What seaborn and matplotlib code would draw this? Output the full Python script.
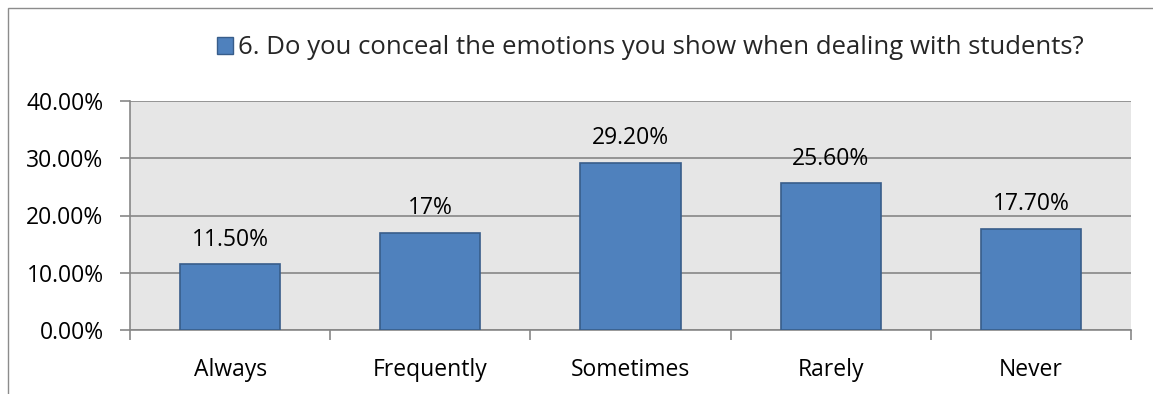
import matplotlib
matplotlib.use("Agg")
import matplotlib.pyplot as plt
import seaborn as sns
import pandas as pd
from matplotlib.patches import Rectangle, Patch
from matplotlib.ticker import FuncFormatter, FixedLocator

categories = ["Always", "Frequently", "Sometimes", "Rarely", "Never"]
values = [11.5, 17.0, 29.2, 25.6, 17.7]
value_labels = ["11.50%", "17%", "29.20%", "25.60%", "17.70%"]
series_name = "6. Do you conceal the emotions you show when dealing with students?"
y_ticks = [0, 10, 20, 30, 40]

sns.set_theme(style="white")
plt.rcParams["font.family"] = ["Open Sans", "DejaVu Sans"]
FS = 16.5
LEG_FS = 18.5

W, H = 1153, 394
fig = plt.figure(figsize=(W / 100, H / 100), dpi=100)
fig.patch.set_facecolor("white")

# chart-area frame (extends past the right and bottom edges)
fig.add_artist(Rectangle((8 / W, -0.1), 1.2, 1.1 - 8 / H, transform=fig.transFigure,
                         fill=False, edgecolor="#8c8c8c", linewidth=1.0))

ax = fig.add_axes([130 / W, 1 - 330 / H, (1131 - 130) / W, (330 - 101) / H])
ax.set_facecolor("#e6e6e6")

df = pd.DataFrame({"category": categories, "value": values})
sns.barplot(data=df, x="category", y="value", ax=ax, color="#4f81bd",
            saturation=1, width=0.5, edgecolor="#385d8a", linewidth=1.2, zorder=3)

ax.set_ylim(0, 40)
ax.set_xlim(-0.5, len(categories) - 0.5)
ax.yaxis.set_major_locator(FixedLocator(y_ticks))
ax.yaxis.set_major_formatter(FuncFormatter(lambda v, p: f"{v:.2f}%"))
ax.grid(axis="y", color="#878787", linewidth=1.2, zorder=1)
ax.set_axisbelow(True)

for s in ["top", "right"]:
    ax.spines[s].set_visible(False)
for s in ["left", "bottom"]:
    ax.spines[s].set_color("#878787")
    ax.spines[s].set_linewidth(1.2)

ax.tick_params(axis="y", which="major", direction="out", length=7, width=1.2,
               color="#878787", labelsize=FS, pad=12, left=True)
ax.tick_params(axis="x", which="major", length=0, labelsize=FS, pad=20)
ax.set_xticks([i - 0.5 for i in range(len(categories) + 1)], minor=True)
ax.tick_params(axis="x", which="minor", direction="out", length=7, width=1.2,
               color="#878787", bottom=True)
for lbl in ax.get_xticklabels() + ax.get_yticklabels():
    lbl.set_color("black")

ax.set_xlabel("")
ax.set_ylabel("")

for i, (v, t) in enumerate(zip(values, value_labels)):
    ax.annotate(t, (i, v), xytext=(0, 9), textcoords="offset points",
                ha="center", va="bottom", fontsize=FS, color="black")

handle = Patch(facecolor="#4f81bd", edgecolor="#385d8a", linewidth=1.0)
fig.legend([handle], [series_name], loc="center", bbox_to_anchor=(650 / W, 1 - 48 / H),
           frameon=False, fontsize=LEG_FS, handlelength=0.62, handleheight=0.62,
           handletextpad=0.2, borderpad=0)

fig.savefig("out.png", dpi=100, facecolor="white")
